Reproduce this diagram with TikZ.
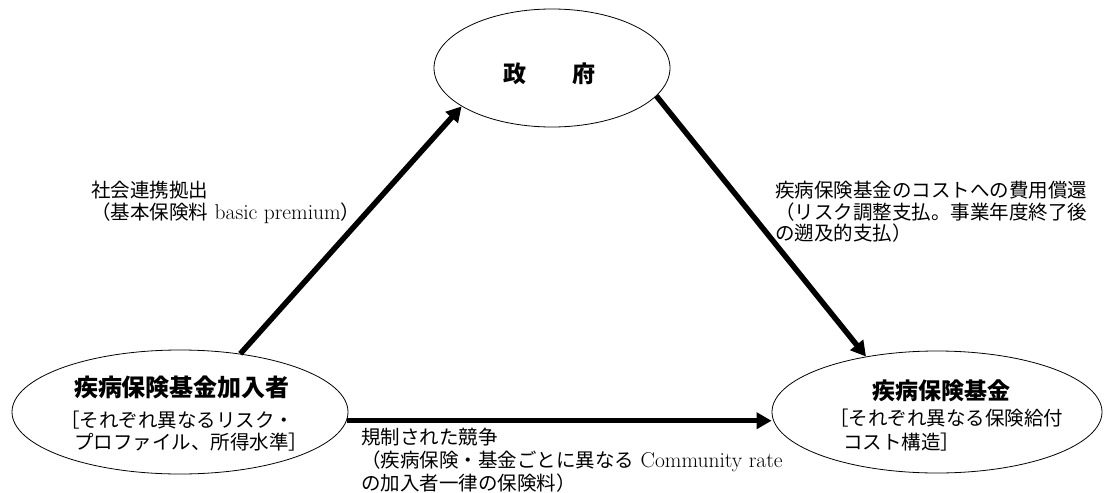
\documentclass[tikz,border=0pt]{standalone}
\usepackage{fontspec}
\newfontfamily\cjk{Noto Sans CJK JP}
\usetikzlibrary{shapes.geometric,arrows.meta}
\newcommand\lat[1]{{\rmfamily\fontsize{21.5}{23}\selectfont #1}}
\begin{document}
\begin{tikzpicture}[x=1pt,y=-1pt,
  oval/.style={draw, ellipse, line width=0.8pt, inner sep=0pt},
  arr/.style={line width=5.5pt, -{Triangle[length=15pt,width=16pt]}},
  txt/.style={inner sep=0pt, anchor=west, font=\cjk\fontsize{19.5}{23}\selectfont},
  ttl/.style={inner sep=0pt, font=\cjk\bfseries\fontsize{24}{28}\selectfont},
  ttlb/.style={inner sep=0pt, font=\cjk\bfseries\fontsize{23}{27}\selectfont}]
\useasboundingbox (0,0) rectangle (1104,493);
% ellipses
\node[oval, minimum width=236pt, minimum height=118pt] (gov) at (552,68) {};
\node[oval, minimum width=336pt, minimum height=124pt] (member) at (180,412) {};
\node[oval, minimum width=330pt, minimum height=122pt] (fund) at (937,412) {};
% texts inside
\node[ttlb] (govt) at (549,74) {政　　府};
\node[ttl] (membert) at (182,387) {疾病保険基金加入者};
\node[txt] (member1) at (60,420) {［それぞれ異なるリスク・};
\node[txt] (member2) at (74,442) {プロファイル、所得水準］};
\node[ttlb] (fundt) at (941,391) {疾病保険基金};
\node[txt] (fund1) at (829,418) {［それぞれ異なる保険給付};
\node[txt] (fund2) at (843,442) {コスト構造］};
% labels
\node[txt] (l1a) at (91,190) {社会連携拠出};
\node[txt] (l1b) at (91,213) {（基本保険料\lat{ basic premium}）};
\node[txt] (l2a) at (775,190) {疾病保険基金のコストへの費用償還};
\node[txt] (l2b) at (775,212) {（リスク調整支払。事業年度終了後};
\node[txt] (l2c) at (775,233) {の遡及的支払）};
\node[txt] (l3a) at (361,437) {規制された競争};
\node[txt] (l3b) at (361,461) {（疾病保険・基金ごとに異なる\lat{ Community rate}};
\node[txt] (l3c) at (361,483) {の加入者一律の保険料）};
% arrows
\draw[arr] (member.44) -- (gov.203);
\draw[arr] (gov.-15) -- (fund.142);
\draw[arr] (member.-3) -- (member.-3 -| fund.west);
\end{tikzpicture}
\end{document}
